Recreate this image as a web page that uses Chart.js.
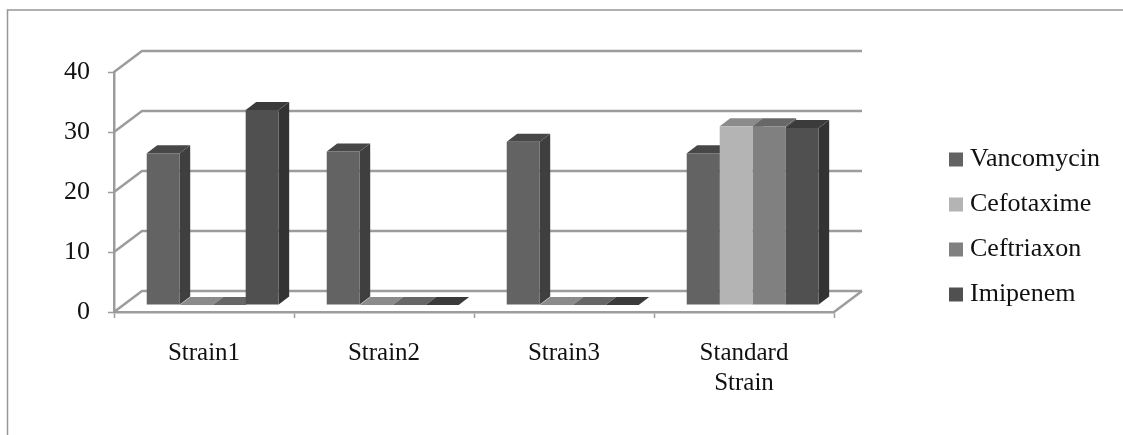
<!DOCTYPE html>
<html>
<head>
<meta charset="utf-8">
<style>
  html, body { margin: 0; padding: 0; background: #ffffff; }
  #wrap { width: 1123px; height: 435px; }
</style>
<script src="https://cdn.jsdelivr.net/npm/chart.js@4/dist/chart.umd.min.js"></script>
</head>
<body>
<div id="wrap"><canvas id="chart" width="1123" height="435"></canvas></div>
<script>
var categories = ["Strain1", "Strain2", "Strain3", ["Standard", "Strain"]];
var vancomycin = [25.3, 25.6, 27.2, 25.3];
var cefotaxime = [0, 0, 0, 29.8];
var ceftriaxon = [0, 0, 0, 29.8];
var imipenem = [32.5, 0, 0, 29.5];
var yTicks = [0, 10, 20, 30, 40];

var gridColor = "#9c9c9c";
var serif = "'Liberation Serif'";

// depth of the box and of the bars, in pixels
var wallX = 28, wallY = -21;
var barShiftX = 8.7, barShiftY = -7;
var depthX = 10.5, depthY = -8;

var plugin3d = {
    id: "plugin3d",
    afterLayout: function (chart) {
        // the legend sits far from the plot, and is wider than its layout box
        var legend = chart.legend;
        var h = legend.height;
        legend.width = 187;
        legend.left = 936; legend.right = 936 + legend.width;
        legend.top = 67; legend.bottom = 67 + h;
    },
    beforeDraw: function (chart) {
        var c = chart.ctx;
        c.save();
        c.strokeStyle = "#979797";
        c.lineWidth = 1.5;
        c.beginPath();
        c.moveTo(7.5, 435);
        c.lineTo(7.5, 10);
        c.lineTo(1123, 10);
        c.stroke();
        c.restore();
    },
    beforeDatasetsDraw: function (chart) {
        var c = chart.ctx, a = chart.chartArea, y = chart.scales.y;
        c.save();
        c.strokeStyle = gridColor;
        c.lineWidth = 2.5;
        c.lineJoin = "round";
        yTicks.forEach(function (t) {
            var py = y.getPixelForValue(t);
            c.beginPath();
            c.moveTo(a.left, py);
            c.lineTo(a.left + wallX, py + wallY);
            c.lineTo(a.right + wallX, py + wallY);
            c.stroke();
        });
        c.beginPath();
        c.moveTo(a.right, a.bottom);
        c.lineTo(a.right + wallX, a.bottom + wallY);
        c.stroke();

        // side and top faces go first, the library's bars then cover them
        c.translate(barShiftX, barShiftY);
        chart.data.datasets.forEach(function (ds, i) {
            chart.getDatasetMeta(i).data.forEach(function (bar) {
                var p = bar.getProps(["x", "y", "base", "width"], true);
                var l = p.x - p.width / 2, r = p.x + p.width / 2;
                c.fillStyle = ds.sideColor;
                c.beginPath();
                c.moveTo(r, p.base);
                c.lineTo(r + depthX, p.base + depthY);
                c.lineTo(r + depthX, p.y + depthY);
                c.lineTo(r, p.y);
                c.closePath();
                c.fill();
                c.fillStyle = ds.topColor;
                c.beginPath();
                c.moveTo(l, p.y);
                c.lineTo(l + depthX, p.y + depthY);
                c.lineTo(r + depthX, p.y + depthY);
                c.lineTo(r, p.y);
                c.closePath();
                c.fill();
            });
        });
        c.restore();
    },
    beforeDatasetDraw: function (chart) {
        chart.ctx.save();
        chart.ctx.translate(barShiftX, barShiftY);
    },
    afterDatasetDraw: function (chart) {
        chart.ctx.restore();
    }
};

new Chart(document.getElementById("chart"), {
    type: "bar",
    data: {
        labels: categories,
        datasets: [
            { label: "Vancomycin", data: vancomycin, backgroundColor: "#636363", sideColor: "#3f3f3f", topColor: "#474747" },
            { label: "Cefotaxime", data: cefotaxime, backgroundColor: "#b4b4b4", sideColor: "#7e7e7e", topColor: "#8b8b8b" },
            { label: "Ceftriaxon", data: ceftriaxon, backgroundColor: "#808080", sideColor: "#5a5a5a", topColor: "#676767" },
            { label: "Imipenem", data: imipenem, backgroundColor: "#505050", sideColor: "#333333", topColor: "#3b3b3b" }
        ]
    },
    options: {
        responsive: false,
        animation: false,
        devicePixelRatio: 1,
        datasets: { bar: { categoryPercentage: 0.733, barPercentage: 1, borderWidth: 0 } },
        layout: { padding: { left: 0, top: 72, right: 129, bottom: 43 } },
        scales: {
            x: {
                afterFit: function (s) { s.height = 80; },
                border: { color: gridColor, width: 2.5 },
                grid: { drawOnChartArea: false, tickLength: 6, tickColor: gridColor, tickWidth: 1.5, offset: true },
                ticks: { color: "#111111", font: { family: serif, size: 25 }, padding: 20, maxRotation: 0 }
            },
            y: {
                min: 0,
                max: 40,
                afterFit: function (s) { s.width = 114; },
                border: { color: gridColor, width: 2.5 },
                grid: { drawOnChartArea: false, tickLength: 6, tickColor: gridColor, tickWidth: 1.5 },
                ticks: { stepSize: 10, color: "#111111", font: { family: serif, size: 26 }, padding: 18 }
            }
        },
        plugins: {
            tooltip: { enabled: false },
            legend: {
                position: "right",
                maxWidth: 160,
                labels: {
                    color: "#111111",
                    font: { family: serif, size: 26 },
                    usePointStyle: true,
                    pointStyle: "rect",
                    boxWidth: 2,
                    boxHeight: 14,
                    padding: 19
                }
            }
        }
    },
    plugins: [plugin3d]
});
</script>
</body>
</html>
